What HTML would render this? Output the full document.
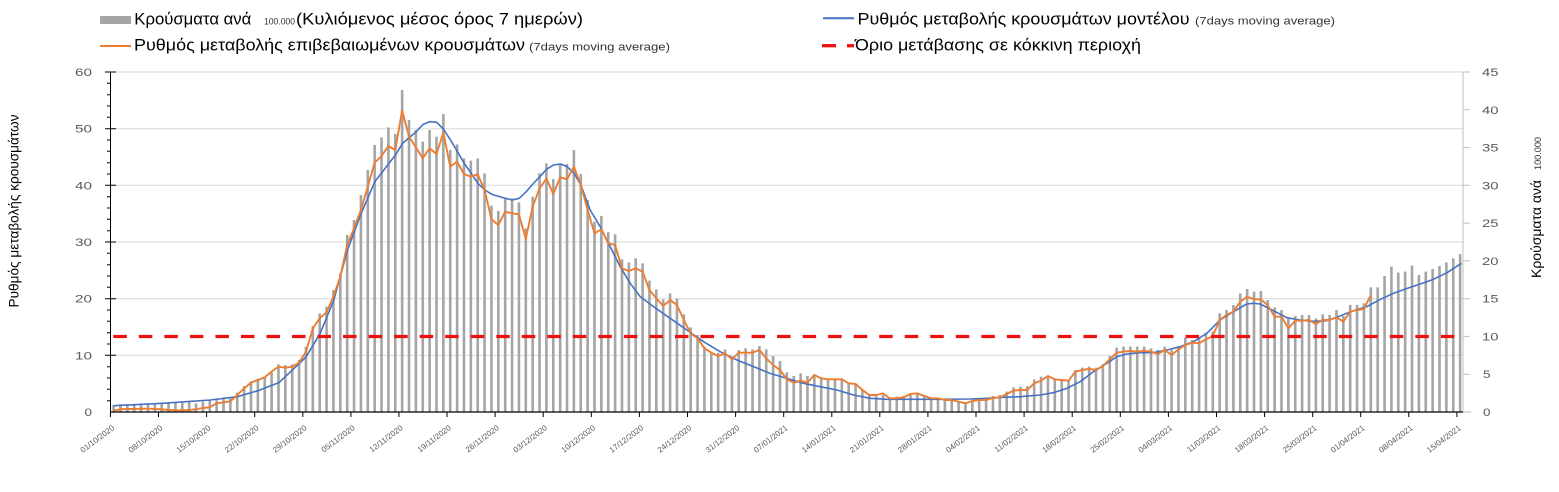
<!DOCTYPE html>
<html><head><meta charset="utf-8"><style>
html,body{margin:0;padding:0;background:#fff;}
svg{display:block;font-family:"Liberation Sans","Noto Sans CJK SC",sans-serif;}
</style></head><body>
<svg width="1559" height="492" viewBox="0 0 1559 492" xmlns="http://www.w3.org/2000/svg">
<rect width="1559" height="492" fill="#fff"/>
<!-- legend -->
<rect x="100" y="16" width="31" height="8" fill="#a5a5a5"/>
<text x="134.3" y="24.3" font-size="16.5" fill="#000" textLength="117" lengthAdjust="spacingAndGlyphs">Κρούσματα ανά</text>
<text x="264" y="24.3" font-size="9.5" fill="#333" textLength="31" lengthAdjust="spacingAndGlyphs">100.000</text>
<text x="296" y="24.3" font-size="16.5" fill="#000" textLength="287" lengthAdjust="spacingAndGlyphs">(Κυλιόμενος μέσος όρος 7 ημερών)</text>
<line x1="100" y1="46" x2="131" y2="46" stroke="#ed7d31" stroke-width="2"/>
<text x="134" y="50.5" font-size="16.5" fill="#000" textLength="391" lengthAdjust="spacingAndGlyphs">Ρυθμός μεταβολής επιβεβαιωμένων κρουσμάτων</text>
<text x="529" y="50.5" font-size="11" fill="#333" textLength="141" lengthAdjust="spacingAndGlyphs">(7days moving average)</text>
<line x1="823" y1="18.3" x2="854" y2="18.3" stroke="#4472c4" stroke-width="2"/>
<text x="857.5" y="24.3" font-size="16.5" fill="#000" textLength="332" lengthAdjust="spacingAndGlyphs">Ρυθμός μεταβολής κρουσμάτων μοντέλου</text>
<text x="1195" y="24.3" font-size="11" fill="#333" textLength="140" lengthAdjust="spacingAndGlyphs">(7days moving average)</text>
<line x1="822" y1="45.7" x2="836" y2="45.7" stroke="#ee1111" stroke-width="3.3"/>
<line x1="847" y1="45.7" x2="854" y2="45.7" stroke="#ee1111" stroke-width="3.3"/>
<text x="855" y="50.5" font-size="16.5" fill="#000" textLength="286" lengthAdjust="spacingAndGlyphs">Όριο μετάβασης σε κόκκινη περιοχή</text>

<!-- gridlines -->
<g stroke="#d9d9d9" stroke-width="1">
<line x1="110" y1="72" x2="1463" y2="72"/>
<line x1="110" y1="128.7" x2="1463" y2="128.7"/>
<line x1="110" y1="185.3" x2="1463" y2="185.3"/>
<line x1="110" y1="242" x2="1463" y2="242"/>
<line x1="110" y1="298.7" x2="1463" y2="298.7"/>
<line x1="110" y1="355.3" x2="1463" y2="355.3"/>
</g>
<!-- right axis -->
<line x1="1463" y1="72" x2="1463" y2="412" stroke="#bfbfbf" stroke-width="1"/>
<path d="M1463 72H1470M1463 109.8H1470M1463 147.6H1470M1463 185.3H1470M1463 223.1H1470M1463 260.9H1470M1463 298.7H1470M1463 336.4H1470M1463 374.2H1470M1463 412H1471" stroke="#bfbfbf" stroke-width="1"/>

<!-- data -->
<g transform="translate(113.6,70) scale(6.87,0.333333)">
<path vector-effect="non-scaling-stroke" stroke="#a5a5a5" stroke-width="2.6" fill="none" d="M0 1005V1026M1 1003V1026M2 1003V1026M3 1003V1026M4 1000V1026M5 1000V1026M6 1000V1026M7 1000V1026M8 998V1026M9 998V1026M10 996V1026M11 996V1026M12 1000V1026M13 995V1026M14 990V1026M15 985V1026M16 982V1026M17 985V1026M18 968V1026M19 948V1026M20 934V1026M21 926V1026M22 922V1026M23 908V1026M24 883V1026M25 885V1026M26 883V1026M27 870V1026M28 830V1026M29 768V1026M30 730V1026M31 710V1026M32 660V1026M33 610V1026M34 495V1026M35 450V1026M36 375V1026M37 300V1026M38 225V1026M39 202V1026M40 172V1026M41 192V1026M42 60V1026M43 150V1026M44 180V1026M45 215V1026M46 180V1026M47 200V1026M48 132V1026M49 240V1026M50 223V1026M51 265V1026M52 272V1026M53 265V1026M54 310V1026M55 407V1026M56 423V1026M57 385V1026M58 385V1026M59 397V1026M60 475V1026M61 380V1026M62 310V1026M63 280V1026M64 327V1026M65 280V1026M66 282V1026M67 240V1026M68 312V1026M69 390V1026M70 455V1026M71 438V1026M72 486V1026M73 493V1026M74 568V1026M75 577V1026M76 565V1026M77 580V1026M78 632V1026M79 658V1026M80 688V1026M81 670V1026M82 685V1026M83 733V1026M84 772V1026M85 795V1026M86 830V1026M87 850V1026M88 848V1026M89 838V1026M90 860V1026M91 840V1026M92 835V1026M93 838V1026M94 828V1026M95 838V1026M96 858V1026M97 873V1026M98 907V1026M99 918V1026M100 910V1026M101 918V1026M102 913V1026M103 922V1026M104 928V1026M105 927V1026M106 925V1026M107 938V1026M108 942V1026M109 958V1026M110 975V1026M111 978V1026M112 975V1026M113 985V1026M114 980V1026M115 978V1026M116 975V1026M117 970V1026M118 975V1026M119 985V1026M120 985V1026M121 988V1026M122 990V1026M123 993V1026M124 1000V1026M125 992V1026M126 990V1026M127 985V1026M128 978V1026M129 975V1026M130 965V1026M131 952V1026M132 950V1026M133 948V1026M134 928V1026M135 920V1026M136 918V1026M137 925V1026M138 930V1026M139 930V1026M140 900V1026M141 893V1026M142 890V1026M143 893V1026M144 882V1026M145 858V1026M146 833V1026M147 830V1026M148 830V1026M149 830V1026M150 830V1026M151 835V1026M152 840V1026M153 830V1026M154 840V1026M155 830V1026M156 803V1026M157 810V1026M158 805V1026M159 788V1026M160 785V1026M161 730V1026M162 720V1026M163 705V1026M164 670V1026M165 657V1026M166 665V1026M167 663V1026M168 690V1026M169 712V1026M170 720V1026M171 745V1026M172 738V1026M173 735V1026M174 735V1026M175 745V1026M176 733V1026M177 735V1026M178 720V1026M179 738V1026M180 705V1026M181 705V1026M182 700V1026M183 652V1026M184 652V1026M185 618V1026M186 590V1026M187 608V1026M188 605V1026M189 587V1026M190 615V1026M191 605V1026M192 597V1026M193 588V1026M194 577V1026M195 565V1026M196 552V1026"/>
<polyline vector-effect="non-scaling-stroke" fill="none" stroke="#4472c4" stroke-width="1.6" stroke-linejoin="round" points="0,1007 7.07,1000 14.06,990 18.04,980 21.05,962 24.06,938 27.06,880 28.03,860 30.07,790 32.06,690 34.05,540 36.04,430 38.03,335 40.07,280 41.04,255 42.06,220 44.05,185 45.06,163 46.04,155 47.05,157 48.03,178 49.04,210 50.06,245 51.04,280 52.05,310 53.02,340 54.04,360 55.06,373 57.05,385 58.02,390 59.04,385 60.06,365 61.03,342 62.05,320 63.02,298 64.04,285 65.05,282 66.02,290 67.04,310 68.01,345 69.37,420 70.83,470 72.28,530 73.74,590 75.2,640 76.65,680 78.59,710 81.02,745 83.44,780 85.87,815 88.3,845 90.72,870 93.15,890 95.57,910 98,925 100.43,940 102.85,950 105.28,960 107.71,975 110.13,985 112.56,988 115,988 119.8,988 124.7,987 127.1,985 129.6,982 132,980 134.88,975 136.82,968 138.76,955 140.7,935 142.64,905 144.58,880 146.03,860 147.49,852 149.43,848 151.37,848 153.31,840 155.25,830 157.19,815 159.13,790 161.07,750 163.01,725 164.95,702 165.92,700 166.89,702 168.83,722 170.77,743 172.71,750 174.65,754 176.59,752 178.5,738 180.5,722 182.4,710 184.4,688 186.3,670 188.3,655 190.2,642 192.1,628 194.1,608 196.2,580"/>
<polyline vector-effect="non-scaling-stroke" fill="none" stroke="#ed7d31" stroke-width="1.9" stroke-linejoin="round" points="0,1022 1,1018 2,1017 3,1017 4,1016 5,1016 6,1017 7,1018 8,1020 9,1021 10,1021 11,1020 12,1018 13,1014 14,1012 15,1000 16,997 17,994 18,975 19,955 20,938 21,930 22,922 23,905 24,890 25,893 26,890 27,878 28,845 29,775 30,745 31,727 32,680 33,620 34,525 35,475 36,420 37,350 38,278 39,258 40,228 41,240 42,122 43,200 44,232 45,265 46,235 47,252 48,188 49,290 50,275 51,312 52,320 53,313 54,360 55,448 56,465 57,425 58,430 59,433 60,507 61,410 62,355 63,326 64,372 65,322 66,328 67,290 68,345 69,420 70,490 71,478 72,520 73,525 74,595 75,603 76,595 77,605 78,660 79,685 80,708 81,690 82,705 83,750 84,790 85,805 86,835 87,848 88,858 89,850 90,868 91,848 92,848 93,848 94,840 95,865 96,885 97,900 98,928 99,938 100,932 101,938 102,915 103,925 104,928 105,928 106,928 107,940 108,942 109,960 110,975 111,975 112,970 113,985 114,985 115,982 116,972 117,970 118,978 119,985 120,985 121,990 122,990 123,995 124,1000 125,993 126,990 127,990 128,983 129,983 130,972 131,962 132,960 133,960 134,940 135,932 136,918 137,928 138,930 139,932 140,905 141,900 142,897 143,900 144,888 145,868 146,848 147,845 148,843 149,845 150,842 151,845 152,852 153,840 154,855 155,838 156,825 157,818 158,820 159,808 160,798 161,750 162,735 163,725 164,695 165,680 166,688 167,688 168,706 169,740 170,740 171,775 172,752 173,752 174,750 175,762 176,750 177,750 178,742 179,755 180,725 181,720 182,717 183,675"/>
</g>
<!-- threshold -->
<line x1="113.3" y1="336.5" x2="1455" y2="336.5" stroke="#ee1111" stroke-width="3.3" stroke-dasharray="13.5 12.03"/>

<!-- left axis -->
<line x1="110.5" y1="72" x2="110.5" y2="412" stroke="#000" stroke-width="1"/>
<path stroke="#000" stroke-width="1" d="M107 83.3H110.5M107 94.7H110.5M107 106H110.5M107 117.3H110.5M107 140H110.5M107 151.3H110.5M107 162.7H110.5M107 174H110.5M107 196.7H110.5M107 208H110.5M107 219.3H110.5M107 230.7H110.5M107 253.3H110.5M107 264.7H110.5M107 276H110.5M107 287.3H110.5M107 310H110.5M107 321.3H110.5M107 332.7H110.5M107 344H110.5M107 366.7H110.5M107 378H110.5M107 389.3H110.5M107 400.7H110.5M105 72H116M105 128.7H116M105 185.3H116M105 242H116M105 298.7H116M105 355.3H116"/>
<g font-size="11" fill="#595959" text-anchor="end">
<text x="92" y="76" textLength="17" lengthAdjust="spacingAndGlyphs">60</text>
<text x="92" y="132.7" textLength="17" lengthAdjust="spacingAndGlyphs">50</text>
<text x="92" y="189.3" textLength="17" lengthAdjust="spacingAndGlyphs">40</text>
<text x="92" y="246" textLength="17" lengthAdjust="spacingAndGlyphs">30</text>
<text x="92" y="302.7" textLength="17" lengthAdjust="spacingAndGlyphs">20</text>
<text x="92" y="359.3" textLength="17" lengthAdjust="spacingAndGlyphs">10</text>
<text x="92" y="416" textLength="7.5" lengthAdjust="spacingAndGlyphs">0</text>
</g>
<g font-size="11" fill="#595959">
<text x="1482" y="76" textLength="16.5" lengthAdjust="spacingAndGlyphs">45</text>
<text x="1482" y="113.8" textLength="16.5" lengthAdjust="spacingAndGlyphs">40</text>
<text x="1482" y="151.6" textLength="16.5" lengthAdjust="spacingAndGlyphs">35</text>
<text x="1482" y="189.3" textLength="16.5" lengthAdjust="spacingAndGlyphs">30</text>
<text x="1482" y="227.1" textLength="16.5" lengthAdjust="spacingAndGlyphs">25</text>
<text x="1482" y="264.9" textLength="16.5" lengthAdjust="spacingAndGlyphs">20</text>
<text x="1482" y="302.7" textLength="16.5" lengthAdjust="spacingAndGlyphs">15</text>
<text x="1482" y="340.4" textLength="16.5" lengthAdjust="spacingAndGlyphs">10</text>
<text x="1483" y="378.2" textLength="7.5" lengthAdjust="spacingAndGlyphs">5</text>
<text x="1483" y="416" textLength="7.5" lengthAdjust="spacingAndGlyphs">0</text>
</g>
<!-- axis titles -->
<text transform="translate(18.5,211) rotate(-90)" font-size="14" fill="#000" text-anchor="middle" textLength="193" lengthAdjust="spacingAndGlyphs">Ρυθμός μεταβολής κρουσμάτων</text>
<text transform="translate(1541,278) rotate(-90)" font-size="14" fill="#000" textLength="98" lengthAdjust="spacingAndGlyphs">Κρούσματα ανά</text>
<text transform="translate(1541,170) rotate(-90)" font-size="9" fill="#333" textLength="33" lengthAdjust="spacingAndGlyphs">100.000</text>

<!-- x axis -->
<line x1="110" y1="412" x2="1463" y2="412" stroke="#000" stroke-width="1.2"/>
<path stroke="#000" stroke-width="1" d="M110.4 412V417M158.5 412V417M206.6 412V417M254.7 412V417M302.8 412V417M350.9 412V417M398.9 412V417M447 412V417M495.1 412V417M543.2 412V417M591.3 412V417M639.4 412V417M687.5 412V417M735.6 412V417M783.7 412V417M831.8 412V417M879.8 412V417M927.9 412V417M976 412V417M1024.1 412V417M1072.2 412V417M1120.3 412V417M1168.4 412V417M1216.5 412V417M1264.6 412V417M1312.7 412V417M1360.7 412V417M1408.8 412V417M1456.9 412V417"/>
<g font-size="8" fill="#595959" text-anchor="end">
<text transform="translate(114.9,429) rotate(-37)">01/10/2020</text>
<text transform="translate(163,429) rotate(-37)">08/10/2020</text>
<text transform="translate(211.1,429) rotate(-37)">15/10/2020</text>
<text transform="translate(259.2,429) rotate(-37)">22/10/2020</text>
<text transform="translate(307.3,429) rotate(-37)">29/10/2020</text>
<text transform="translate(355.4,429) rotate(-37)">05/11/2020</text>
<text transform="translate(403.4,429) rotate(-37)">12/11/2020</text>
<text transform="translate(451.5,429) rotate(-37)">19/11/2020</text>
<text transform="translate(499.6,429) rotate(-37)">26/11/2020</text>
<text transform="translate(547.7,429) rotate(-37)">03/12/2020</text>
<text transform="translate(595.8,429) rotate(-37)">10/12/2020</text>
<text transform="translate(643.9,429) rotate(-37)">17/12/2020</text>
<text transform="translate(692,429) rotate(-37)">24/12/2020</text>
<text transform="translate(740.1,429) rotate(-37)">31/12/2020</text>
<text transform="translate(788.2,429) rotate(-37)">07/01/2021</text>
<text transform="translate(836.3,429) rotate(-37)">14/01/2021</text>
<text transform="translate(884.3,429) rotate(-37)">21/01/2021</text>
<text transform="translate(932.4,429) rotate(-37)">28/01/2021</text>
<text transform="translate(980.5,429) rotate(-37)">04/02/2021</text>
<text transform="translate(1028.6,429) rotate(-37)">11/02/2021</text>
<text transform="translate(1076.7,429) rotate(-37)">18/02/2021</text>
<text transform="translate(1124.8,429) rotate(-37)">25/02/2021</text>
<text transform="translate(1172.9,429) rotate(-37)">04/03/2021</text>
<text transform="translate(1221,429) rotate(-37)">11/03/2021</text>
<text transform="translate(1269.1,429) rotate(-37)">18/03/2021</text>
<text transform="translate(1317.2,429) rotate(-37)">25/03/2021</text>
<text transform="translate(1365.2,429) rotate(-37)">01/04/2021</text>
<text transform="translate(1413.3,429) rotate(-37)">08/04/2021</text>
<text transform="translate(1461.4,429) rotate(-37)">15/04/2021</text>
</g>
</svg>
</body></html>
